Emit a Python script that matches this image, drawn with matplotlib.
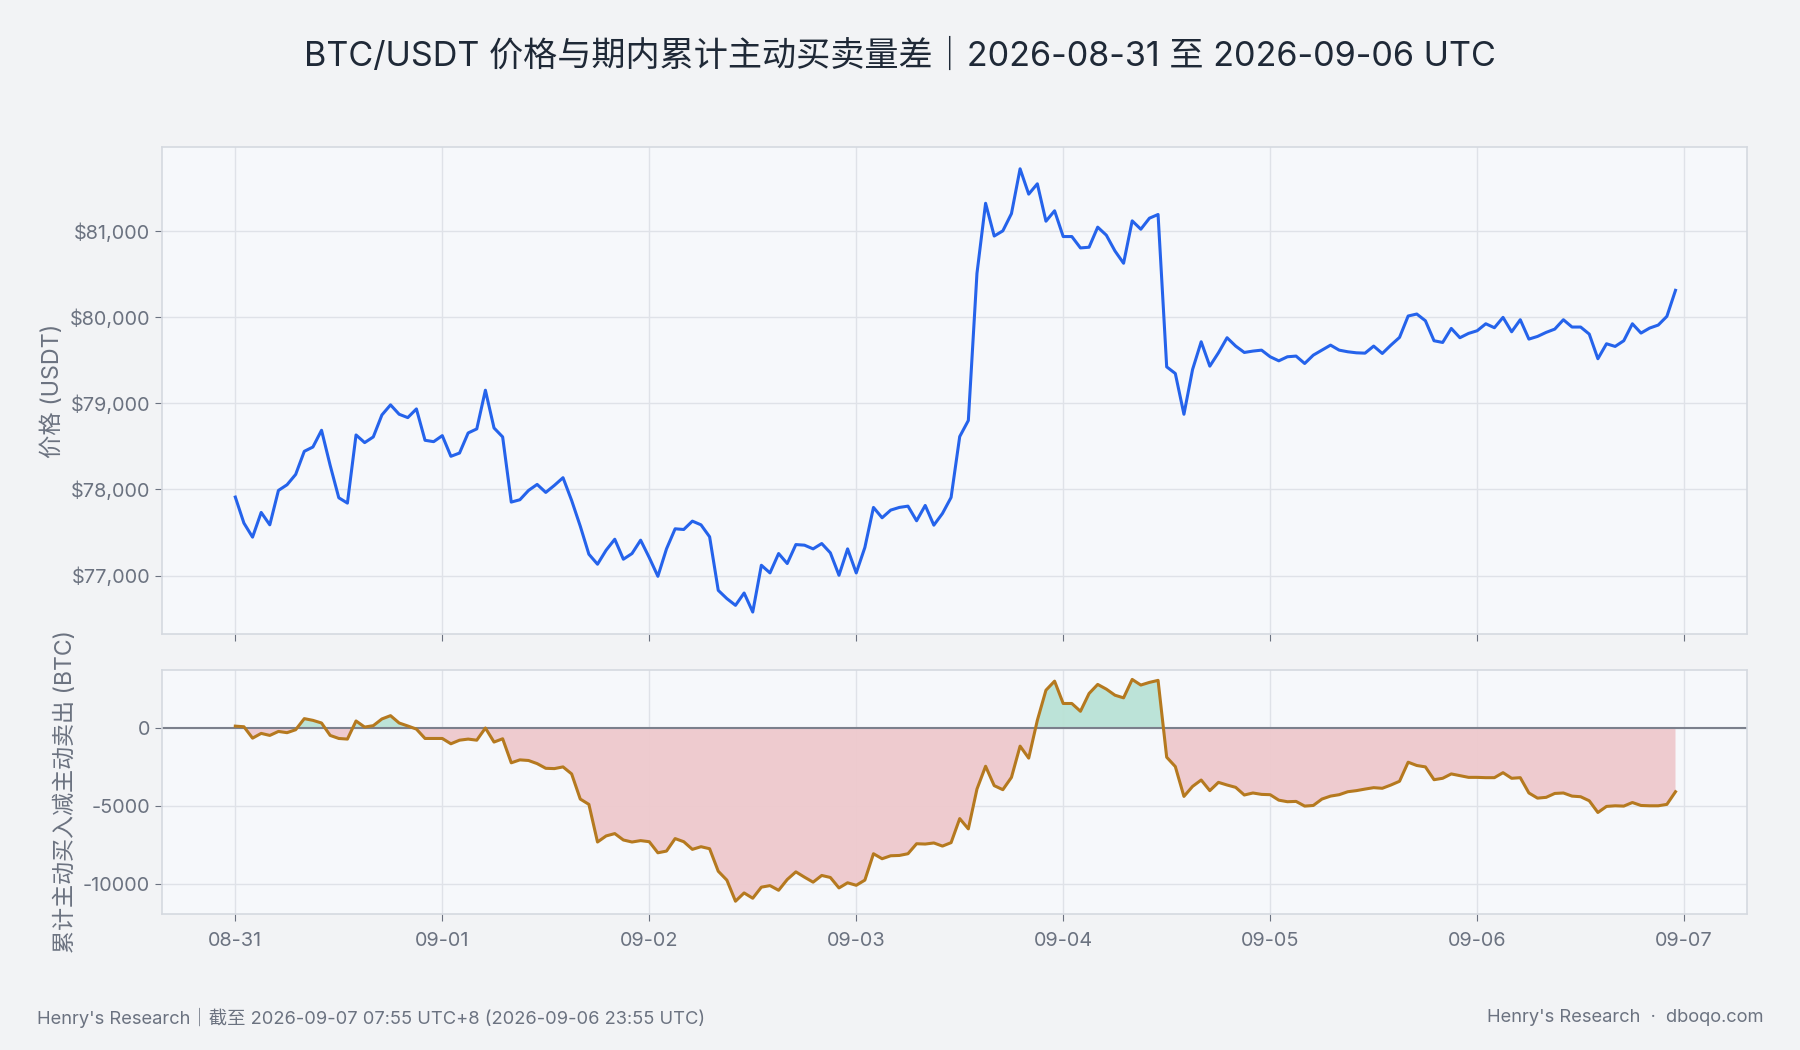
import numpy as np
import pandas as pd
import matplotlib
matplotlib.use("Agg")
import matplotlib.pyplot as plt
import matplotlib.dates as mdates
from matplotlib.ticker import FuncFormatter, FixedLocator

plt.rcParams['font.family'] = ['Inter', 'Noto Sans CJK SC', 'DejaVu Sans']

start = "2026-08-31 00:00"
price = [77911, 77609, 77446, 77733, 77589, 77988, 78054, 78174, 78442, 78492, 78686, 78279,
         77903, 77841, 78632, 78543, 78609, 78864, 78981, 78872, 78833, 78934, 78570, 78554,
         78624, 78384, 78422, 78655, 78702, 79151, 78713, 78609, 77853, 77880, 77988, 78058,
         77965, 78047, 78136, 77872, 77574, 77248, 77132, 77295, 77422, 77190, 77256, 77411,
         77209, 76992, 77310, 77543, 77535, 77632, 77589, 77450, 76829, 76733, 76655, 76798,
         76577, 77120, 77031, 77256, 77140, 77360, 77353, 77310, 77372, 77264, 77004, 77310,
         77031, 77326, 77791, 77671, 77760, 77791, 77806, 77636, 77814, 77585, 77721, 77907,
         78613, 78800, 80507, 81320, 80940, 81000, 81200, 81720, 81426, 81546, 81112, 81233,
         80934, 80934, 80802, 80810, 81043, 80950, 80767, 80624, 81116, 81019, 81147, 81190,
         79422, 79345, 78872, 79391, 79713, 79430, 79585, 79760, 79663, 79589, 79605, 79616,
         79539, 79492, 79539, 79547, 79461, 79558, 79616, 79674, 79616, 79597, 79585, 79581,
         79663, 79577, 79674, 79764, 80012, 80035, 79957, 79725, 79705, 79868, 79760, 79810,
         79841, 79922, 79876, 79996, 79829, 79969, 79744, 79775, 79822, 79860, 79969, 79884,
         79884, 79802, 79516, 79690, 79659, 79725, 79922, 79814, 79872, 79907, 80008, 80310]
cvd = [100, 60, -670, -365, -495, -240, -320, -130, 580, 470, 300, -495,
       -690, -730, 430, 40, 130, 560, 770, 300, 110, -90, -690, -690,
       -690, -1030, -800, -730, -800, -20, -920, -710, -2250, -2060, -2100, -2300,
       -2600, -2620, -2510, -2960, -4570, -4910, -7320, -6930, -6780, -7190, -7320, -7230,
       -7300, -8010, -7900, -7100, -7300, -7790, -7620, -7750, -9190, -9760, -11110, -10580,
       -10920, -10210, -10110, -10410, -9720, -9230, -9570, -9890, -9460, -9590, -10260, -9930,
       -10090, -9760, -8070, -8390, -8200, -8180, -8070, -7430, -7450, -7380, -7580, -7360,
       -5820, -6480, -3930, -2470, -3710, -3970, -3180, -1180, -1950, 470, 2400, 2980,
       1550, 1550, 1050, 2190, 2770, 2470, 2080, 1910, 3090, 2730, 2900, 3030,
       -1890, -2490, -4400, -3760, -3350, -4030, -3500, -3670, -3820, -4310, -4180, -4270,
       -4290, -4640, -4740, -4720, -5020, -4980, -4570, -4380, -4290, -4100, -4030, -3930,
       -3840, -3880, -3670, -3430, -2210, -2420, -2510, -3330, -3240, -2960, -3070, -3180,
       -3180, -3200, -3200, -2880, -3240, -3200, -4180, -4510, -4460, -4210, -4180, -4380,
       -4420, -4680, -5430, -5040, -5000, -5020, -4790, -4980, -5000, -5000, -4910, -4100]
date_ticks = ["08-31", "09-01", "09-02", "09-03", "09-04", "09-05", "09-06", "09-07"]
price_ticks = [77000, 78000, 79000, 80000, 81000]
cvd_ticks = [0, -5000, -10000]

t = pd.date_range(start, periods=len(price), freq="h")
tick_dates = pd.to_datetime(["2026-" + d for d in date_ticks])

FIG_BG = "#f2f3f5"
AX_BG = "#f6f8fb"
GRID = "#dfe2e8"
SPINE = "#d5d9e0"
TXT = "#6b7280"

fig = plt.figure(figsize=(18, 10.5), dpi=100, facecolor=FIG_BG)
ax1 = fig.add_axes([0.09, 0.396, 0.8806, 0.464])
ax2 = fig.add_axes([0.09, 0.1295, 0.8806, 0.2325], sharex=ax1)

x0 = t[0] - pd.Timedelta(hours=8.5)
x1 = t[0] + pd.Timedelta(hours=175.3)

for ax in (ax1, ax2):
    ax.set_facecolor(AX_BG)
    for s in ax.spines.values():
        s.set_color(SPINE)
        s.set_linewidth(1.2)
    ax.grid(True, color=GRID, linewidth=1.0)
    ax.set_axisbelow(True)
    ax.tick_params(colors=TXT, labelsize=14.3, length=5, color="#6b7280")
    ax.xaxis.set_major_locator(FixedLocator(mdates.date2num(tick_dates)))
    ax.set_xlim(x0, x1)

ax1.plot(t, price, color="#2563eb", linewidth=2.2)
ax1.set_ylim(76320, 81973)
ax1.set_yticks(price_ticks)
ax1.yaxis.set_major_formatter(FuncFormatter(lambda v, p: f"${v:,.0f}"))
ax1.set_ylabel("价格 (USDT)", color=TXT, fontsize=16.8)
plt.setp(ax1.get_xticklabels(), visible=False)

c = np.array(cvd, dtype=float)
ax2.fill_between(t, c, 0, where=c >= 0, interpolate=True, color="#b9e2d6", alpha=0.95, linewidth=0)
ax2.fill_between(t, c, 0, where=c <= 0, interpolate=True, color="#eec9cd", alpha=0.95, linewidth=0)
ax2.axhline(0, color="#7b808c", linewidth=1.5)
ax2.plot(t, c, color="#b5791f", linewidth=2.2)
ax2.set_ylim(-11930, 3700)
ax2.set_yticks(cvd_ticks)
ax2.yaxis.set_major_formatter(FuncFormatter(lambda v, p: f"{v:.0f}"))
ax2.set_xticklabels(date_ticks)
ax2.set_ylabel("累计主动买入减主动卖出 (BTC)", color=TXT, fontsize=16.6)
ax2.tick_params(axis="x", pad=8)

fig.text(0.5, 0.947, "BTC/USDT 价格与期内累计主动买卖量差｜2026-08-31 至 2026-09-06 UTC",
         ha="center", va="center", fontsize=24.6, color="#1f2937")
fig.text(0.0205, 0.031, "Henry's Research｜截至 2026-09-07 07:55 UTC+8 (2026-09-06 23:55 UTC)",
         ha="left", va="center", fontsize=13.2, color=TXT)
fig.text(0.9795, 0.031, "Henry's Research  ·  dboqo.com",
         ha="right", va="center", fontsize=13.2, color=TXT)

fig.savefig("out.png", dpi=100, facecolor=FIG_BG)
